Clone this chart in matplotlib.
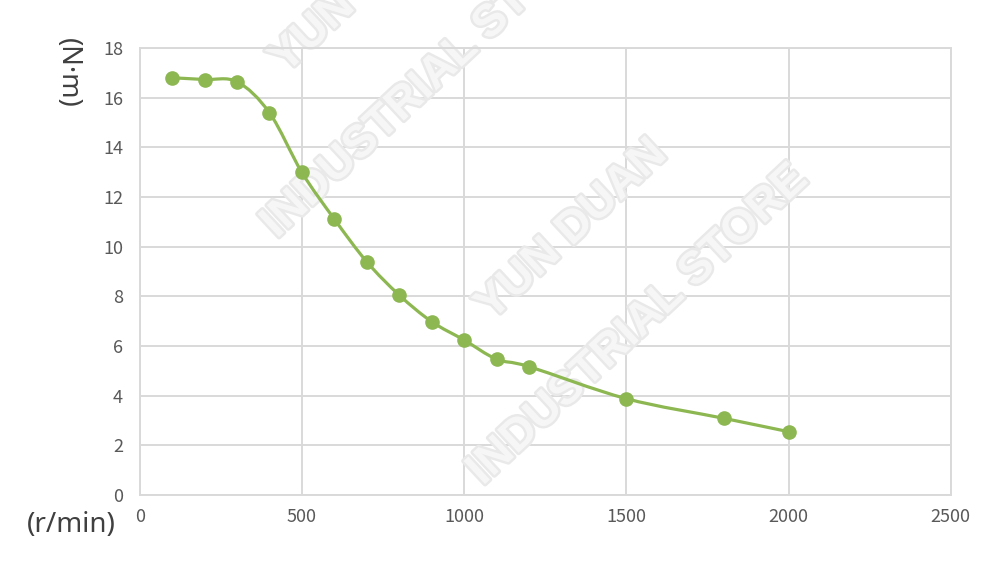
import numpy as np
import matplotlib.pyplot as plt
from matplotlib.path import Path
from matplotlib.patches import PathPatch
import matplotlib.patheffects as pe

plt.rcParams['font.family'] = ['Noto Sans CJK SC', 'DejaVu Sans']

speed = [100, 200, 300, 400, 500, 600, 700, 800, 900, 1000, 1100, 1200, 1500, 1800, 2000]
torque = [16.8, 16.73, 16.64, 15.39, 12.99, 11.11, 9.39, 8.05, 6.98, 6.24, 5.47, 5.17, 3.88, 3.09, 2.55]
xticks = [0, 500, 1000, 1500, 2000, 2500]
yticks = [0, 2, 4, 6, 8, 10, 12, 14, 16, 18]

green = '#8cb751'
grid_c = '#d9d9d9'
tick_c = '#595959'

fig = plt.figure(figsize=(10, 5.72), dpi=100)
ax = fig.add_axes([0.1397, 0.1346, 0.811, 0.7815])
ax.set_xlim(0, 2500)
ax.set_ylim(0, 18)
ax.set_xticks(xticks)
ax.set_yticks(yticks)
ax.grid(True, color=grid_c, linewidth=1.4, zorder=0)
ax.set_axisbelow(True)
for s in ax.spines.values():
    s.set_color(grid_c)
    s.set_linewidth(1.4)
ax.tick_params(length=0, labelsize=13, labelcolor=tick_c)
ax.tick_params(axis='y', pad=12)
ax.tick_params(axis='x', pad=9)

# smoothed line like the spreadsheet "smooth line" option (bezier through points)
pts = np.column_stack([speed, torque]).astype(float)
verts = [pts[0]]
codes = [Path.MOVETO]
n = len(pts)
for i in range(n - 1):
    p0 = pts[i - 1] if i > 0 else pts[i]
    p1 = pts[i]
    p2 = pts[i + 1]
    p3 = pts[i + 2] if i + 2 < n else pts[i + 1]
    c1 = p1 + (p2 - p0) / 6.0
    c2 = p2 - (p3 - p1) / 6.0
    verts += [c1, c2, p2]
    codes += [Path.CURVE4] * 3
ax.add_patch(PathPatch(Path(verts, codes), facecolor='none', edgecolor=green,
                       linewidth=2.3, zorder=3, capstyle='round'))
ax.plot(speed, torque, linestyle='none', marker='o', markersize=9.5,
        color=green, zorder=4, clip_on=False)

# watermark, above the grid but under the curve
wm = dict(fontsize=33, fontweight='bold', color='#f6f6f6', rotation=43,
          ha='center', va='center', family=['Liberation Sans', 'DejaVu Sans'],
          zorder=2.5, transform=fig.transFigure, clip_on=False,
          path_effects=[pe.withStroke(linewidth=3.5, foreground='#e9e9e9')])
for dx, dy in [(0, 0), (-206, -247)]:
    ax.text((572 + dx) / 1000, 1 - (230 + dy) / 572, 'YUN DUAN', **wm)
    ax.text((638 + dx) / 1000, 1 - (325 + dy) / 572, 'INDUSTRIAL STORE', **wm)

fig.text(0.071, 1 - 525 / 572, '(r/min)', fontsize=20, color='#404040',
         ha='center', va='center', family='Noto Sans')
fig.text(0.0675, 1 - 72.5 / 572, '(N·m)', fontsize=19.5, color='#404040',
         ha='center', va='center', rotation=270, family='Noto Sans')

fig.savefig('out.png', dpi=100)
